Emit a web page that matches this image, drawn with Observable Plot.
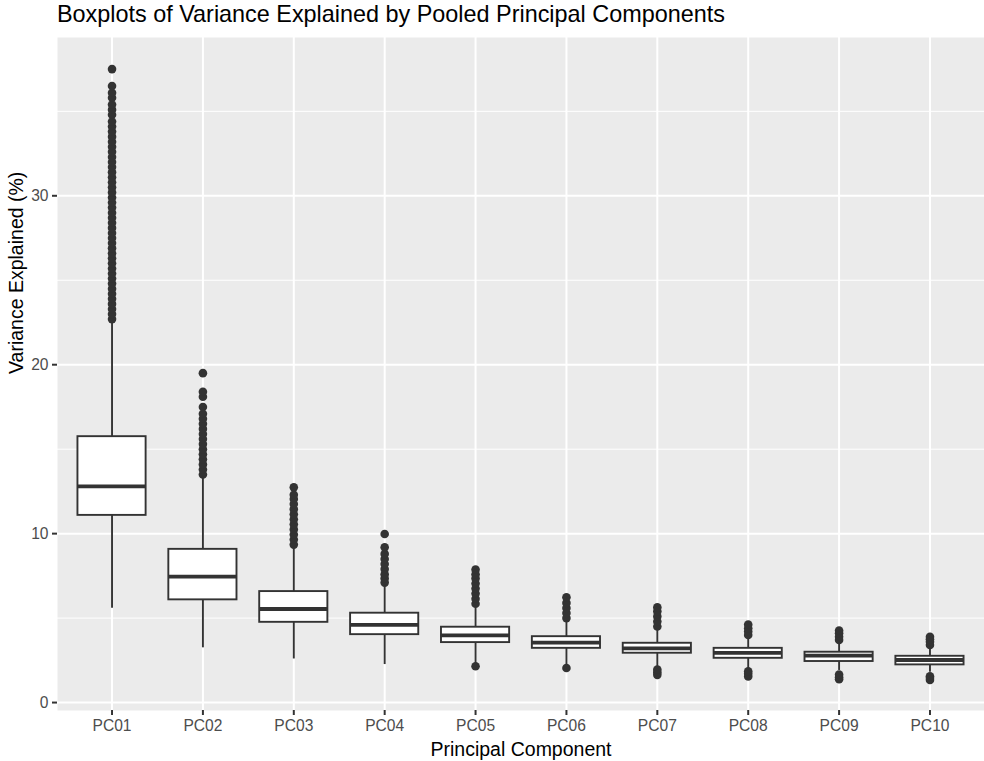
<!DOCTYPE html>
<html>
<head>
<meta charset="utf-8">
<script src="https://cdn.jsdelivr.net/npm/d3@7"></script>
<script src="https://cdn.jsdelivr.net/npm/@observablehq/plot@0.6"></script>
<style>
  body { margin: 0; background: #fff; }
  #title { height: 30px; line-height: 29px; padding-left: 57px; font-family: "Liberation Sans", Arial, sans-serif; font-size: 23.4px; color: #000; white-space: nowrap; }
  #chart svg { display: block; }
</style>
</head>
<body>
<div id="title">Boxplots of Variance Explained by Pooled Principal Components</div>
<div id="chart"></div>
<script>
const components = ["PC01","PC02","PC03","PC04","PC05","PC06","PC07","PC08","PC09","PC10"];
const q1      = [11.08, 6.08, 4.75, 4.02, 3.55, 3.21, 2.92, 2.62, 2.43, 2.23];
const medians = [12.80, 7.46, 5.54, 4.60, 3.98, 3.55, 3.21, 2.94, 2.78, 2.52];
const q3      = [15.74, 9.07, 6.57, 5.29, 4.46, 3.90, 3.51, 3.21, 2.98, 2.74];
const whiskerLow  = [5.58, 3.24, 2.58, 2.25, 2.30, 2.20, 2.10, 2.00, 1.90, 1.80];
const whiskerHigh = [22.5, 13.4, 9.20, 6.95, 5.60, 4.85, 4.35, 3.85, 3.60, 3.30];

const outliersPC01 = [22.7, 23.0, 23.3, 23.6, 23.9, 24.2, 24.5, 24.8, 25.1, 25.4, 25.7, 26.0, 26.3, 26.6, 26.9, 27.2, 27.5, 27.8, 28.1, 28.4, 28.7, 29.0, 29.3, 29.6, 29.9, 30.2, 30.5, 30.8, 31.1, 31.4, 31.7, 32.0, 32.3, 32.6, 32.9, 33.2, 33.5, 33.8, 34.1, 34.4, 34.8, 35.1, 35.4, 35.8, 36.1, 36.5, 37.5];
const outliersPC02 = [13.5, 13.8, 14.1, 14.4, 14.7, 15.0, 15.3, 15.6, 15.9, 16.2, 16.5, 16.8, 17.1, 17.5, 18.1, 18.4, 19.5];
const outliersPC03 = [9.35, 9.65, 9.95, 10.25, 10.55, 10.85, 11.15, 11.45, 11.75, 12.05, 12.3, 12.74];
const outliersPC04 = [7.1, 7.35, 7.6, 7.9, 8.2, 8.5, 8.8, 9.19, 9.98];
const outliersPC05 = [2.15, 5.85, 6.15, 6.45, 6.75, 7.05, 7.35, 7.6, 7.87];
const outliersPC06 = [2.05, 5.0, 5.3, 5.6, 5.9, 6.23];
const outliersPC07 = [1.64, 1.8, 1.95, 4.5, 4.8, 5.1, 5.4, 5.64];
const outliersPC08 = [1.55, 1.7, 1.85, 4.0, 4.2, 4.4, 4.62];
const outliersPC09 = [1.38, 1.5, 1.66, 3.71, 3.9, 4.1, 4.26];
const outliersPC10 = [1.34, 1.45, 1.56, 3.41, 3.6, 3.75, 3.89];

const yTicks = [0, 10, 20, 30];
const yMinor = [5, 15, 25, 35];
const xTitle = "Principal Component";
const yTitle = "Variance Explained (%)";

const boxes = components.map((c, i) => ({
  component: c, q1: q1[i], median: medians[i], q3: q3[i], lo: whiskerLow[i], hi: whiskerHigh[i]
}));
const outlierLists = [outliersPC01, outliersPC02, outliersPC03, outliersPC04, outliersPC05,
                      outliersPC06, outliersPC07, outliersPC08, outliersPC09, outliersPC10];
const outliers = outlierLists.flatMap((list, i) => list.map(v => ({component: components[i], value: v})));

const FONT = '"Liberation Sans", Arial, sans-serif';
const dark = "#333333";

const chart = Plot.plot({
  width: 984,
  height: 731,
  marginLeft: 57,
  marginRight: 0,
  marginTop: 7,
  marginBottom: 51,
  style: { fontFamily: FONT, background: "#fff" },
  x: { type: "band", domain: components, paddingInner: 0.25, paddingOuter: 0.225, align: 0.5, round: false, label: null },
  y: { domain: [-0.47, 39.37], label: null },
  marks: [
    Plot.frame({ fill: "#EBEBEB", stroke: null }),
    Plot.ruleY(yMinor, { stroke: "#fff", strokeWidth: 1 }),
    Plot.ruleY(yTicks, { stroke: "#fff", strokeWidth: 2 }),
    Plot.gridX({ stroke: "#fff", strokeOpacity: 1, strokeWidth: 2 }),
    Plot.axisY({ ticks: yTicks, tickSize: 5, tickPadding: 4, fontSize: 15.6, stroke: dark, strokeWidth: 2, fill: "#4D4D4D", label: null }),
    Plot.axisX({ tickSize: 5, tickPadding: 4, fontSize: 15.6, stroke: dark, strokeWidth: 2, fill: "#4D4D4D", label: null }),
    Plot.dot(outliers, { x: "component", y: "value", r: 4.3, fill: dark, stroke: null }),
    Plot.ruleX(boxes, { x: "component", y1: "q3", y2: "hi", stroke: dark, strokeWidth: 1.9 }),
    Plot.ruleX(boxes, { x: "component", y1: "lo", y2: "q1", stroke: dark, strokeWidth: 1.9 }),
    Plot.barY(boxes, { x: "component", y1: "q1", y2: "q3", fill: "#fff", stroke: dark, strokeWidth: 1.9 }),
    Plot.tickY(boxes, { x: "component", y: "median", stroke: dark, strokeWidth: 3.8 }),
    Plot.text([xTitle], { text: d => d, frameAnchor: "bottom", dy: 45, lineAnchor: "bottom", fontSize: 19.5, fill: "#000" }),
    Plot.text([yTitle], { text: d => d, frameAnchor: "left", dx: -35, rotate: -90, lineAnchor: "bottom", fontSize: 19.5, fill: "#000" })
  ]
});
document.getElementById("chart").appendChild(chart);
</script>
</body>
</html>
